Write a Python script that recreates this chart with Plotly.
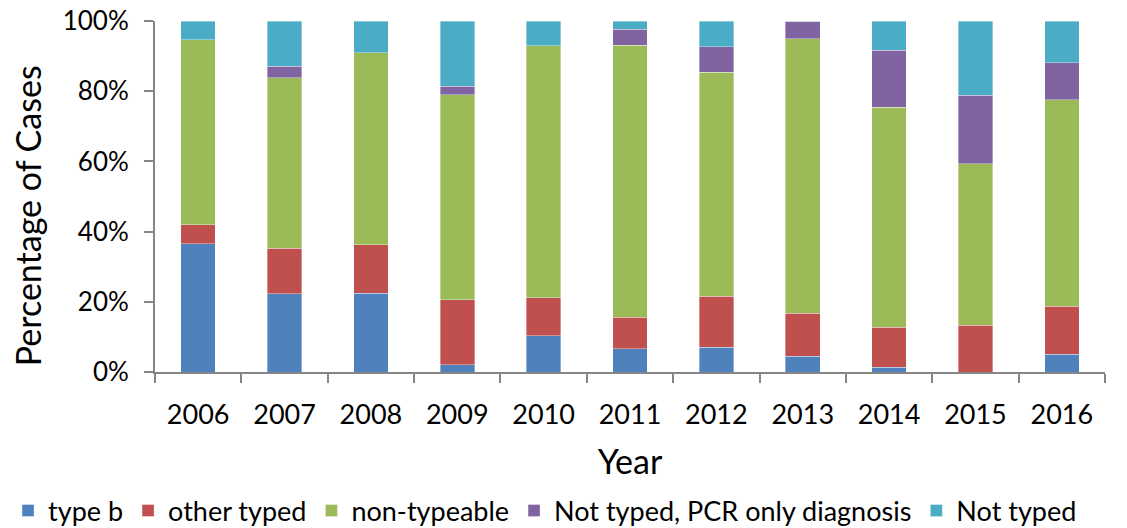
import plotly.graph_objects as go

years = ["2006", "2007", "2008", "2009", "2010", "2011", "2012", "2013", "2014", "2015", "2016"]
type_b = [36.5, 22.3, 22.5, 2.0, 10.3, 6.6, 7.0, 4.5, 1.3, 0.0, 5.1]
other_typed = [5.4, 13.0, 13.7, 18.6, 10.9, 9.0, 14.6, 12.2, 11.5, 13.3, 13.6]
non_typeable = [52.8, 48.6, 54.7, 58.4, 71.7, 77.5, 63.8, 78.3, 62.6, 46.1, 58.9]
pcr_only = [0.0, 3.2, 0.0, 2.4, 0.0, 4.6, 7.2, 5.0, 16.3, 19.4, 10.5]
not_typed = [5.3, 12.9, 9.1, 18.6, 7.1, 2.3, 7.4, 0.0, 8.3, 21.2, 11.9]

series = [
    ("type b", type_b, "#4F81BD"),
    ("other typed", other_typed, "#C0504D"),
    ("non-typeable", non_typeable, "#9BBB59"),
    ("Not typed, PCR only diagnosis", pcr_only, "#8064A2"),
    ("Not typed", not_typed, "#4BACC6"),
]

FONT = "Lato"
fig = go.Figure()
for name, vals, color in series:
    fig.add_trace(go.Bar(
        x=years, y=vals, name=name,
        marker=dict(color=color, line=dict(color="rgba(255,255,255,0.6)", width=0.6)),
    ))

axis_color = "#868686"
# page body adds an 8px offset; the figure is sized to fill the rest of the window
fig.update_layout(
    barmode="stack",
    bargap=0.6,
    width=1119, height=520,
    margin=dict(l=147, r=22, t=13, b=156, autoexpand=False),
    plot_bgcolor="white", paper_bgcolor="white",
    font=dict(family=FONT, color="black"),
    showlegend=True,
    legend=dict(
        orientation="h", xref="paper", yref="paper",
        x=-0.1547, xanchor="left", y=-0.396, yanchor="middle",
        font=dict(size=27, family=FONT), traceorder="normal",
        itemwidth=30, tracegroupgap=0,
    ),
    xaxis=dict(
        title=dict(text="Year", font=dict(size=34), standoff=21),
        showline=True, linecolor=axis_color, linewidth=2,
        ticks="outside", tickson="boundaries", ticklen=9, tickcolor=axis_color, tickwidth=2,
        tickfont=dict(size=27), showgrid=False, ticklabelstandoff=18,
    ),
    yaxis=dict(
        range=[0, 100], tickvals=[0, 20, 40, 60, 80, 100],
        ticktext=["0%", "20%", "40%", "60%", "80%", "100%"],
        showline=True, linecolor=axis_color, linewidth=2,
        ticks="outside", ticklen=9, tickcolor=axis_color, tickwidth=2,
        tickfont=dict(size=26), showgrid=False, zeroline=False, ticklabelstandoff=10,
        ticklabeloverflow="allow",
    ),
    annotations=[dict(
        text="Percentage of Cases", textangle=-90, showarrow=False,
        xref="paper", yref="paper", x=-0.1347, y=0.444,
        xanchor="center", yanchor="middle", font=dict(size=34, family=FONT),
    )],
)

fig.write_html("out.html")
